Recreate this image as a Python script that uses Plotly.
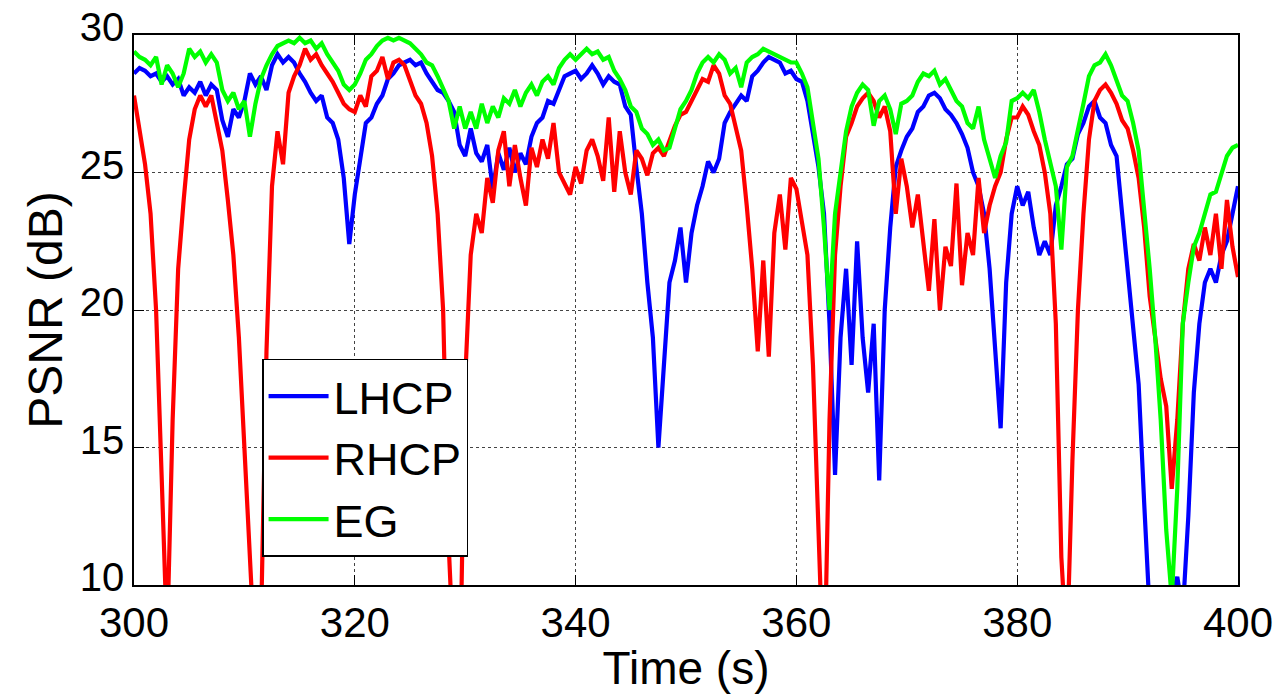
import plotly.graph_objects as go

# sampling times (s), 0.5 s step from 300 to 400
time_s = [300 + 0.5 * i for i in range(201)]

lhcp = [
    28.6, 28.8, 28.7, 28.5, 28.6, 28.3, 28.5, 28.2, 28.4, 27.8, 28.1, 27.9, 28.3, 27.8, 28.2, 28.0, 26.9, 26.3, 27.3, 27.0,
    27.6, 28.6, 28.2, 28.5, 28.0, 28.9, 29.3, 29.0, 29.2, 29.0, 28.6, 28.3, 27.9, 27.6, 27.8, 27.0, 26.8, 26.2, 24.8, 22.4,
    24.2, 25.6, 26.8, 27.0, 27.5, 27.8, 28.4, 28.6, 28.9, 29.0, 29.1, 28.9, 29.0, 28.6, 28.3, 28.0, 27.9, 27.6, 27.2, 26.0,
    25.6, 26.6, 25.7, 25.4, 26.0, 24.4, 25.7, 25.1, 25.9, 25.0, 25.7, 25.3, 26.3, 26.8, 27.0, 27.6, 27.5, 28.0, 28.5, 28.6,
    28.7, 28.4, 28.6, 28.9, 28.6, 28.2, 28.5, 28.3, 28.2, 27.4, 27.1, 25.2, 23.5, 21.0, 19.0, 15.0, 18.0, 21.0, 21.8, 23.0,
    21.0, 22.8, 23.8, 24.5, 25.4, 25.0, 25.5, 26.8, 27.2, 27.5, 27.8, 27.6, 28.5, 28.7, 29.0, 29.2, 29.1, 29.0, 28.6, 28.7,
    28.4, 28.3, 27.6, 26.5, 25.2, 23.5, 19.5, 14.0, 19.0, 21.5, 18.0, 22.5, 19.0, 17.0, 19.5, 13.8, 20.0, 23.0, 25.2, 25.8,
    26.3, 26.6, 27.2, 27.4, 27.8, 27.9, 27.7, 27.3, 27.1, 26.8, 26.4, 25.9, 25.0, 24.5, 23.5, 21.5, 18.5, 15.7, 21.0, 23.5,
    24.5, 23.8, 24.3, 23.0, 22.0, 22.5, 22.0, 23.8, 24.5, 25.3, 25.5, 26.4, 26.8, 27.4, 27.6, 27.0, 26.8, 26.0, 25.6, 23.5,
    21.5, 19.0, 17.3, 13.0, 9.0, 8.0, 8.0, 8.5, 9.5, 10.3, 9.0, 12.5, 17.0, 19.5, 21.0, 21.5, 21.0, 22.0, 22.5, 23.5,
    24.5,
]

rhcp = [
    27.8, 26.6, 25.3, 23.5, 20.0, 14.0, 8.0, 16.0, 21.5, 24.0, 26.2, 27.3, 27.8, 27.4, 27.8, 26.8, 25.8, 24.0, 22.0, 19.0,
    14.5, 9.5, 7.0, 8.5, 18.5, 24.5, 26.5, 25.3, 27.9, 28.5, 28.9, 29.5, 29.1, 29.3, 28.9, 28.6, 28.3, 27.9, 27.5, 27.3,
    27.2, 27.8, 27.4, 28.5, 28.7, 29.2, 28.4, 29.0, 29.1, 28.9, 28.3, 27.8, 27.5, 26.8, 25.6, 23.5, 20.0, 11.5, 7.0, 6.0,
    17.5, 22.0, 23.5, 22.8, 24.8, 23.9, 25.8, 26.5, 24.5, 26.0, 24.8, 23.8, 25.9, 25.2, 26.2, 25.5, 26.8, 25.0, 24.6, 24.2,
    25.2, 24.6, 25.8, 26.2, 25.6, 24.7, 27.0, 24.3, 26.5, 25.0, 24.2, 25.8, 25.5, 24.9, 25.7, 25.9, 25.6, 26.2, 26.7, 27.1,
    27.2, 27.6, 28.0, 28.4, 28.3, 28.9, 28.6, 27.8, 27.5, 26.6, 25.8, 23.8, 21.5, 18.5, 21.8, 18.3, 22.8, 24.2, 22.2, 24.8,
    24.4, 23.2, 22.0, 18.0, 11.0, 6.0, 16.0, 22.0, 24.5, 26.3, 26.8, 27.4, 27.7, 27.9, 27.6, 27.0, 27.4, 26.5, 23.5, 25.5,
    24.5, 23.0, 24.2, 22.5, 20.7, 23.3, 20.0, 22.3, 21.6, 24.6, 20.9, 22.8, 22.0, 24.8, 22.8, 23.8, 24.5, 25.0, 26.2, 27.0,
    27.0, 27.4, 27.1, 26.5, 26.0, 25.0, 23.5, 19.5, 11.0, 7.5, 14.5, 20.0, 23.5, 26.2, 27.6, 28.0, 28.2, 27.9, 27.5, 26.9,
    26.6, 25.8, 24.8, 23.0, 20.5, 19.0, 17.5, 16.5, 13.5, 16.0, 19.5, 21.5, 22.4, 21.8, 23.0, 22.0, 23.5, 21.5, 24.0, 22.3,
    21.2,
]

eg = [
    29.4, 29.2, 29.1, 28.9, 29.2, 28.2, 28.9, 28.6, 28.1, 28.6, 29.5, 29.2, 29.4, 29.0, 29.3, 29.0, 28.0, 27.6, 27.9, 27.3,
    27.6, 26.3, 27.5, 28.4, 28.9, 29.3, 29.6, 29.7, 29.8, 29.7, 29.9, 29.7, 29.8, 29.5, 29.7, 29.3, 29.0, 28.7, 28.2, 28.0,
    28.2, 28.6, 29.1, 29.3, 29.6, 29.8, 29.9, 29.8, 29.9, 29.8, 29.7, 29.5, 29.3, 29.0, 28.9, 28.5, 28.0, 27.6, 26.6, 27.4,
    26.6, 27.2, 26.6, 27.5, 26.8, 27.4, 27.0, 27.7, 27.5, 28.0, 27.4, 27.9, 28.2, 27.8, 28.3, 28.5, 28.2, 28.8, 29.1, 29.3,
    29.1, 29.3, 29.5, 29.3, 29.4, 29.1, 29.2, 28.7, 28.4, 28.0, 27.4, 27.2, 26.6, 26.4, 26.0, 26.2, 25.8, 25.9, 26.6, 27.3,
    27.6, 28.0, 28.6, 29.0, 29.2, 29.0, 29.3, 29.1, 28.6, 28.8, 28.1, 29.0, 29.2, 29.3, 29.5, 29.4, 29.3, 29.2, 29.1, 29.0,
    29.0, 28.6, 28.1, 26.8, 25.5, 23.0, 20.0, 23.5, 25.0, 26.5, 27.4, 27.9, 28.2, 28.0, 26.7, 27.6, 27.8, 27.3, 26.4, 27.5,
    27.6, 27.8, 28.3, 28.6, 28.5, 28.7, 28.2, 28.4, 28.0, 27.6, 27.4, 26.8, 26.6, 27.4, 26.2, 25.5, 24.8, 25.6, 26.1, 27.6,
    27.7, 27.9, 27.7, 28.0, 27.2, 26.2, 25.3, 24.5, 22.2, 25.2, 25.6, 26.5, 27.5, 28.5, 28.9, 29.0, 29.3, 28.9, 28.4, 27.8,
    27.6, 26.8, 25.8, 23.8, 21.5, 19.0, 16.0, 12.0, 9.5, 13.5, 19.5, 21.0, 22.3, 22.8, 23.5, 24.2, 24.3, 25.0, 25.6, 25.9,
    26.0,
]

series_names = ["LHCP", "RHCP", "EG"]
series_colors = ["#0000FF", "#FF0000", "#00FF00"]
x_ticks = [300, 320, 340, 360, 380, 400]
y_ticks = [10, 15, 20, 25, 30]

FONT = "Liberation Sans, Arial, Helvetica, sans-serif"

fig = go.Figure()
for name, vals, col in zip(series_names, [lhcp, rhcp, eg], series_colors):
    fig.add_trace(go.Scatter(x=time_s, y=vals, mode="lines", name=name,
                             line=dict(color=col, width=4.2)))

axis_common = dict(
    showline=True, linecolor="black", linewidth=1.5, mirror="ticks",
    ticks="inside", ticklen=10, tickwidth=1.2, tickcolor="black",
    showgrid=True, gridcolor="#444444", griddash="dot", gridwidth=1,
    zeroline=False, automargin=False,
)

fig.update_xaxes(range=[300, 400], tickvals=x_ticks, ticktext=[str(v) for v in x_ticks],
                 tickfont=dict(family=FONT, size=42, color="black"),
                 title=dict(text="Time (s)", font=dict(family=FONT, size=46, color="black"), standoff=0),
                 **axis_common)
fig.update_yaxes(range=[10, 30], tickvals=y_ticks, ticktext=[str(v) for v in y_ticks],
                 tickfont=dict(family=FONT, size=40, color="black"), ticklabelshift=-8,
                 title=dict(text="PSNR (dB)", font=dict(family=FONT, size=48, color="black"), standoff=2),
                 **axis_common)

fig.update_layout(
    width=1280, height=694,
    margin=dict(l=134, r=42, t=35, b=109),
    paper_bgcolor="white", plot_bgcolor="white",
    legend=dict(x=0.116, y=0.051, xanchor="left", yanchor="bottom",
                bgcolor="white", bordercolor="black", borderwidth=1.5,
                font=dict(family=FONT, size=45, color="black"),
                itemwidth=60, tracegroupgap=0),
)

fig.write_html("out.html")
